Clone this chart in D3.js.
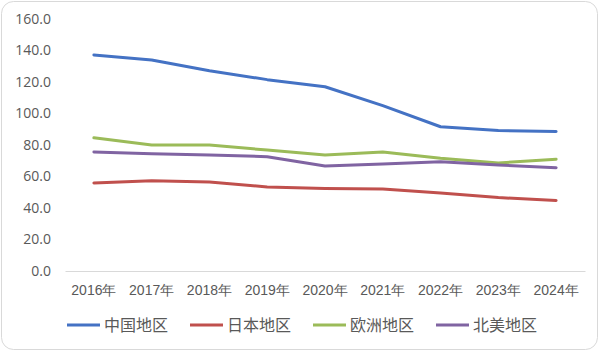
<!DOCTYPE html>
<html lang="zh">
<head>
<meta charset="UTF-8">
<title>地区折线图</title>
<script src="https://d3js.org/d3.v7.min.js"></script>
<style>
  body { margin: 0; background: #fff; }
  svg { display: block; font-family: "Noto Sans CJK SC", "DejaVu Sans", sans-serif; }
</style>
</head>
<body>
<svg id="chart" width="600" height="352"></svg>
<script>
const years = ["2016年", "2017年", "2018年", "2019年", "2020年", "2021年", "2022年", "2023年", "2024年"];
const yTicks = [0, 20, 40, 60, 80, 100, 120, 140, 160];

const china  = [137.2, 134.0, 127.2, 121.5, 117.0, 105.0, 91.6, 89.2, 88.6];
const japan  = [55.9, 57.3, 56.5, 53.4, 52.4, 52.0, 49.5, 46.6, 44.8];
const europe = [84.6, 80.0, 80.0, 76.8, 73.7, 75.6, 71.6, 68.6, 71.0];
const namer  = [75.6, 74.5, 73.6, 72.6, 66.7, 68.0, 69.4, 67.3, 65.6];

const seriesNames = ["中国地区", "日本地区", "欧洲地区", "北美地区"];
const seriesColors = ["#4472C4", "#C0504D", "#9BBB59", "#8064A2"];
const series = [china, japan, europe, namer];

const svg = d3.select("#chart");

// outer frame
svg.append("rect")
  .attr("x", 1.5).attr("y", 1.5)
  .attr("width", 596).attr("height", 348)
  .attr("rx", 12)
  .attr("fill", "#fff")
  .attr("stroke", "#d9d9d9");

const m = { left: 65, right: 585, top: 19, bottom: 271 };

const x = d3.scaleBand().domain(years).range([m.left, m.right]);
const y = d3.scaleLinear().domain([0, 160]).range([m.bottom, m.top]);

// y axis labels
const yAxis = svg.append("g")
  .attr("transform", `translate(${m.left - 14},0)`)
  .call(d3.axisLeft(y).tickValues(yTicks).tickFormat(d3.format(".1f")).tickSize(0).tickPadding(0));
yAxis.select(".domain").remove();
yAxis.selectAll("text")
  .attr("fill", "#595959")
  .style("font-size", "14px")
  .style("font-family", "'Open Sans', 'DejaVu Sans', sans-serif");

// x axis
const xAxis = svg.append("g")
  .attr("transform", `translate(0,${m.bottom})`)
  .call(d3.axisBottom(x).tickSize(0).tickPadding(14));
xAxis.select(".domain").attr("stroke", "#d9d9d9");
xAxis.selectAll("text")
  .attr("fill", "#595959")
  .style("font-size", "14px");

// lines
const line = d3.line()
  .x((d, i) => x(years[i]) + x.bandwidth() / 2)
  .y(d => y(d));

svg.append("g").selectAll("path")
  .data(series)
  .join("path")
  .attr("d", line)
  .attr("fill", "none")
  .attr("stroke", (d, i) => seriesColors[i])
  .attr("stroke-width", 3)
  .attr("stroke-linejoin", "round")
  .attr("stroke-linecap", "round");

// legend
const legendX = [67, 190, 313, 436];
const legend = svg.append("g").selectAll("g")
  .data(seriesNames)
  .join("g")
  .attr("transform", (d, i) => `translate(${legendX[i]},325)`);
legend.append("line")
  .attr("x1", 0).attr("x2", 33)
  .attr("stroke", (d, i) => seriesColors[i])
  .attr("stroke-width", 3);
legend.append("text")
  .attr("x", 37).attr("dy", "0.35em")
  .attr("fill", "#595959")
  .style("font-size", "16px")
  .text(d => d);
</script>
</body>
</html>
